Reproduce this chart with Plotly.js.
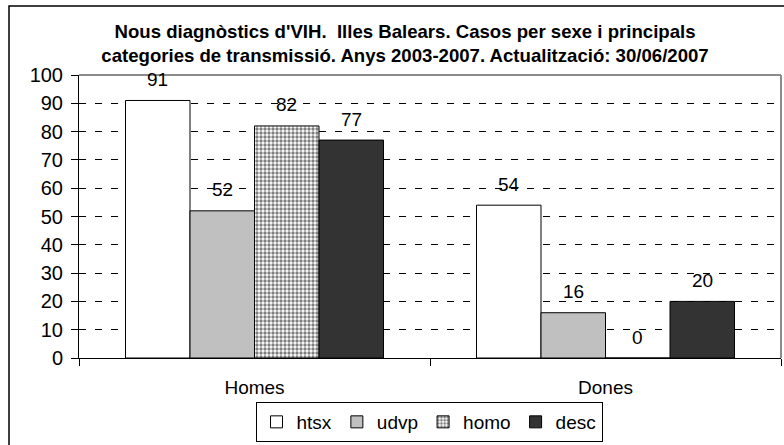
<!DOCTYPE html>
<html>
<head>
<meta charset="utf-8">
<script src="https://cdn.plot.ly/plotly-3.0.1.min.js"></script>
<style>html,body{margin:0;padding:0;background:#fff;}#chart{width:784px;height:445px;}</style>
</head>
<body>
<div id="chart"></div>
<script>
var categories = ["Homes", "Dones"];
var seriesNames = ["htsx", "udvp", "homo", "desc"];
var htsx = [91, 54];
var udvp = [52, 16];
var homo = [82, 0];
var desc = [77, 20];
var yTicks = [0, 10, 20, 30, 40, 50, 60, 70, 80, 90, 100];

var FONT = "Liberation Sans, Arial, sans-serif";
var fills = ["#ffffff", "#c0c0c0", "#ffffff", "#333333"];
var values = [htsx, udvp, homo, desc];

var W = 784, H = 445;
var M = { l: 79, r: 3, t: 75, b: 87 };
var BARGAP = 0.265;
var plotW = W - M.l - M.r;
var barPx = plotW / categories.length * (1 - BARGAP) / seriesNames.length;

var traces = values.map(function (v, i) {
  var marker = { color: fills[i], line: { color: "#000000", width: 1 } };
  if (seriesNames[i] === "homo") {
    marker.pattern = { shape: ".", fgcolor: "#000000", bgcolor: "#ffffff", size: 4, solidity: 0.55, fillmode: "overlay" };
  }
  return {
    type: "bar",
    name: seriesNames[i],
    x: categories,
    y: v,
    marker: marker,
    hoverinfo: "skip"
  };
});

var annotations = [];
values.forEach(function (v, i) {
  v.forEach(function (val, j) {
    annotations.push({
      x: categories[j], y: val, xref: "x", yref: "y",
      text: String(val), showarrow: false,
      xshift: (i - (seriesNames.length - 1) / 2) * barPx,
      yshift: 21, yanchor: "middle", xanchor: "center",
      font: { family: FONT, size: 19, color: "#000000" }
    });
  });
});

var layout = {
  width: W,
  height: H,
  margin: { l: M.l, r: M.r, t: M.t, b: M.b, autoexpand: false },
  paper_bgcolor: "#ffffff",
  plot_bgcolor: "#ffffff",
  font: { family: FONT, size: 19, color: "#000000" },
  barmode: "group",
  bargap: BARGAP,
  bargroupgap: 0,
  title: {
    text: "Nous diagnòstics d'VIH.  Illes Balears. Casos per sexe i principals<br>categories de transmissió. Anys 2003-2007. Actualització: 30/06/2007",
    font: { family: FONT, size: 18.6, weight: "bold", color: "#000000" },
    x: 0.5166, xanchor: "center",
    y: 0.915, yanchor: "middle"
  },
  xaxis: {
    type: "category",
    showline: true, linecolor: "#000000", linewidth: 1,
    ticks: "outside", ticklen: 7, tickcolor: "#000000", tickson: "boundaries",
    showgrid: false,
    ticklabelstandoff: 12,
    tickfont: { family: FONT, size: 19 }
  },
  yaxis: {
    range: [0, 100],
    tickvals: yTicks,
    ticktext: yTicks.map(String),
    showline: true, linecolor: "#000000", linewidth: 1,
    ticks: "outside", ticklen: 7, tickcolor: "#000000",
    showgrid: true, gridcolor: "#000000", gridwidth: 1, griddash: "7px,9px",
    zeroline: false,
    ticklabelstandoff: 4,
    tickfont: { family: FONT, size: 20 },
    fixedrange: true
  },
  legend: {
    orientation: "h",
    x: 0.4986, xanchor: "center",
    y: -0.1555, yanchor: "top",
    bordercolor: "#000000", borderwidth: 1,
    font: { family: FONT, size: 19 },
    itemwidth: 30,
    tracegroupgap: 0
  },
  annotations: annotations,
  shapes: [
    { type: "line", xref: "paper", yref: "paper", x0: 0, x1: 1, y0: 1, y1: 1, line: { color: "#8c8c8c", width: 2 } },
    { type: "line", xref: "paper", yref: "paper", x0: 1, x1: 1, y0: 0, y1: 1, line: { color: "#8c8c8c", width: 2 } },
    { type: "rect", xref: "paper", yref: "paper", x0: -0.0997, x1: 1.02, y0: -0.35, y1: 1.2438, line: { color: "#000000", width: 1.5 }, fillcolor: "rgba(0,0,0,0)", layer: "below" }
  ],
  showlegend: true
};

Plotly.newPlot("chart", traces, layout, { displayModeBar: false, staticPlot: true });
</script>
</body>
</html>
